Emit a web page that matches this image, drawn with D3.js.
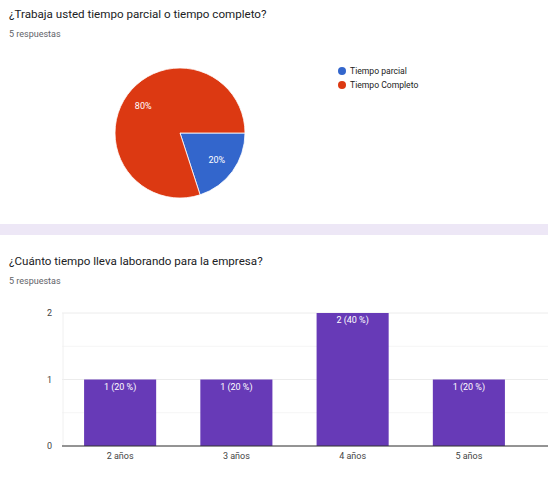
<!DOCTYPE html>
<html>
<head>
<meta charset="utf-8">
<script src="https://cdn.jsdelivr.net/npm/d3@7"></script>
<style>
  body { margin: 0; background: #fff; }
  svg { display: block; font-family: Roboto, Arial, sans-serif; }
</style>
</head>
<body>
<svg id="chart" width="548" height="497"></svg>
<script>
// pie question
const pieLabels = ['Tiempo parcial', 'Tiempo Completo']
const pieValues = [1, 4]
const pieColors = ['#3366cc', '#dc3912']

// bar question
const barLabels = ['2 años', '3 años', '4 años', '5 años']
const barValues = [1, 1, 2, 1]
const barTicks = [0, 1, 2]
const total = 5

const svg = d3.select('#chart')

// separator band between the two cards
svg.append('rect').attr('x', 0).attr('y', 224).attr('width', 548).attr('height', 11).attr('fill', '#ede7f6')

function heading(y, title) {
  svg.append('text').attr('x', 9).attr('y', y).attr('font-size', 11.6).attr('fill', '#202124').text(title)
  svg.append('text').attr('x', 9).attr('y', y + 19).attr('font-size', 9).attr('fill', '#5f6368').text(`${total} respuestas`)
}

heading(18, '¿Trabaja usted tiempo parcial o tiempo completo?')
heading(265, '¿Cuánto tiempo lleva laborando para la empresa?')

// --- pie ---
const cx = 180, cy = 133, r = 65
const pie = d3.pie().sort(null).startAngle(Math.PI / 2).endAngle(Math.PI / 2 + 2 * Math.PI)
const arcs = pie(pieValues)
const arc = d3.arc().innerRadius(0).outerRadius(r)
const labelArc = d3.arc().innerRadius(r * 0.7).outerRadius(r * 0.7)
const gp = svg.append('g').attr('transform', `translate(${cx},${cy})`)

gp.selectAll('path').data(arcs).join('path')
  .attr('d', arc)
  .attr('fill', (d, i) => pieColors[i])
  .attr('stroke', '#fff').attr('stroke-width', 0.8)

gp.selectAll('text').data(arcs).join('text')
  .attr('transform', (d) => `translate(${labelArc.centroid(d)})`)
  .attr('text-anchor', 'middle').attr('dy', '0.35em')
  .attr('font-size', 9).attr('fill', '#fff')
  .text((d) => `${Math.round(d.value / total * 100)}%`)

const legend = svg.append('g').attr('transform', 'translate(342,71)')
pieLabels.forEach((name, i) => {
  legend.append('circle').attr('cx', 0).attr('cy', i * 14).attr('r', 4).attr('fill', pieColors[i])
  legend.append('text').attr('x', 8).attr('y', i * 14).attr('dy', '0.35em')
    .attr('font-size', 8.6).attr('fill', '#222').text(name)
})

// --- bars ---
const x = d3.scaleBand().domain(barLabels).range([62, 527]).paddingInner(0.38).paddingOuter(0.19)
const y = d3.scaleLinear().domain([0, 2]).range([446, 313])
const gb = svg.append('g')

gb.selectAll('line.grid').data(d3.range(0, 2.01, 0.5)).join('line')
  .attr('class', 'grid')
  .attr('x1', 62).attr('x2', 548)
  .attr('y1', (d) => y(d)).attr('y2', (d) => y(d))
  .attr('stroke', (d) => d % 1 === 0 ? '#ececec' : '#f5f5f5')

gb.append('line').attr('x1', 63).attr('x2', 63).attr('y1', 313).attr('y2', 446).attr('stroke', '#f0f0f0')

gb.selectAll('text.ytick').data(barTicks).join('text')
  .attr('class', 'ytick')
  .attr('x', 52).attr('y', (d) => y(d)).attr('dy', '0.35em')
  .attr('text-anchor', 'end').attr('font-size', 9).attr('fill', '#444')
  .text((d) => d)

gb.selectAll('rect.bar').data(barValues).join('rect')
  .attr('class', 'bar')
  .attr('x', (d, i) => x(barLabels[i]))
  .attr('y', (d) => y(d))
  .attr('width', x.bandwidth())
  .attr('height', (d) => y(0) - y(d))
  .attr('fill', '#673ab7')

gb.selectAll('text.val').data(barValues).join('text')
  .attr('class', 'val')
  .attr('x', (d, i) => x(barLabels[i]) + x.bandwidth() / 2)
  .attr('y', (d) => y(d) + 10)
  .attr('text-anchor', 'middle').attr('font-size', 9).attr('fill', '#fff')
  .text((d) => `${d} (${Math.round(d / total * 100)} %)`)

gb.append('line').attr('x1', 62).attr('x2', 548).attr('y1', y(0)).attr('y2', y(0)).attr('stroke', '#333')

gb.selectAll('text.xtick').data(barLabels).join('text')
  .attr('class', 'xtick')
  .attr('x', (d) => x(d) + x.bandwidth() / 2).attr('y', 459)
  .attr('text-anchor', 'middle').attr('font-size', 9).attr('fill', '#444')
  .text((d) => d)
</script>
</body>
</html>
